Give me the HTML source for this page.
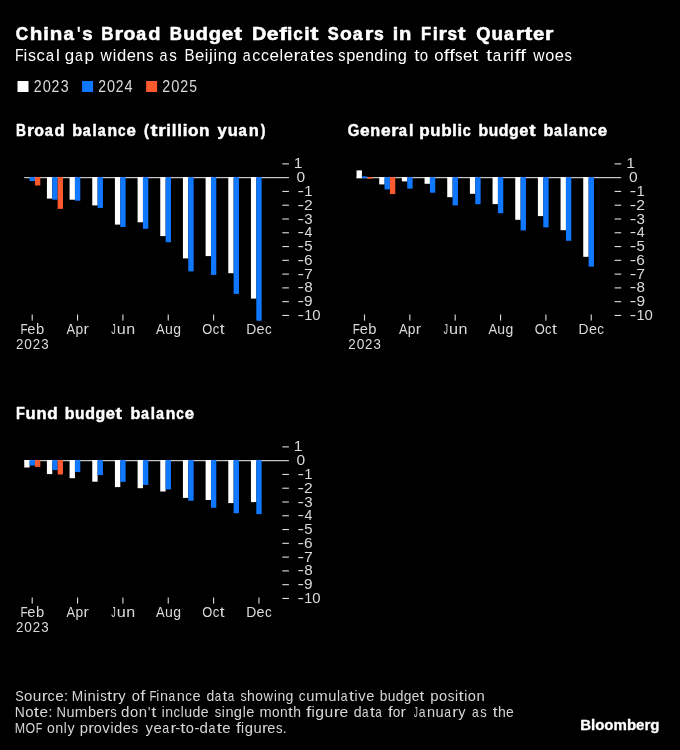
<!DOCTYPE html>
<html><head><meta charset="utf-8"><title>China's Broad Budget Deficit Soars in First Quarter</title>
<style>
html,body{margin:0;padding:0;background:#000;}
body{width:680px;height:750px;overflow:hidden;font-family:"Liberation Sans",sans-serif;}
svg{display:block;will-change:transform;font-family:"Liberation Sans",sans-serif;}
</style></head><body>
<svg width="680" height="750" viewBox="0 0 680 750">
<rect width="680" height="750" fill="#000"/>
<text y="40.20" font-size="19.2" font-weight="700" fill="#fff" stroke="#fff" stroke-width="0.55" stroke-linejoin="round"><tspan x="15.85" textLength="12.42" lengthAdjust="spacingAndGlyphs">C</tspan><tspan x="29.75" textLength="12.62" lengthAdjust="spacingAndGlyphs">h</tspan><tspan x="43.32" textLength="5.58" lengthAdjust="spacingAndGlyphs">i</tspan><tspan x="49.86" textLength="12.55" lengthAdjust="spacingAndGlyphs">n</tspan><tspan x="63.44" textLength="10.42" lengthAdjust="spacingAndGlyphs">a</tspan><tspan x="77.15" textLength="2.96" lengthAdjust="spacingAndGlyphs">&#39;</tspan><tspan x="82.14" textLength="10.34" lengthAdjust="spacingAndGlyphs">s</tspan> <tspan x="101.17" textLength="12.29" lengthAdjust="spacingAndGlyphs">B</tspan><tspan x="114.56" textLength="8.68" lengthAdjust="spacingAndGlyphs">r</tspan><tspan x="123.49" textLength="11.92" lengthAdjust="spacingAndGlyphs">o</tspan><tspan x="136.25" textLength="9.95" lengthAdjust="spacingAndGlyphs">a</tspan><tspan x="148.25" textLength="12.25" lengthAdjust="spacingAndGlyphs">d</tspan> <tspan x="169.67" textLength="12.22" lengthAdjust="spacingAndGlyphs">B</tspan><tspan x="183.18" textLength="11.85" lengthAdjust="spacingAndGlyphs">u</tspan><tspan x="195.81" textLength="12.18" lengthAdjust="spacingAndGlyphs">d</tspan><tspan x="208.76" textLength="12.24" lengthAdjust="spacingAndGlyphs">g</tspan><tspan x="221.68" textLength="11.57" lengthAdjust="spacingAndGlyphs">e</tspan><tspan x="233.97" textLength="7.99" lengthAdjust="spacingAndGlyphs">t</tspan> <tspan x="251.99" textLength="14.24" lengthAdjust="spacingAndGlyphs">D</tspan><tspan x="266.87" textLength="11.81" lengthAdjust="spacingAndGlyphs">e</tspan><tspan x="279.39" textLength="7.62" lengthAdjust="spacingAndGlyphs">f</tspan><tspan x="286.98" textLength="5.38" lengthAdjust="spacingAndGlyphs">i</tspan><tspan x="293.20" textLength="9.53" lengthAdjust="spacingAndGlyphs">c</tspan><tspan x="304.23" textLength="5.38" lengthAdjust="spacingAndGlyphs">i</tspan><tspan x="310.32" textLength="8.16" lengthAdjust="spacingAndGlyphs">t</tspan> <tspan x="327.80" textLength="10.97" lengthAdjust="spacingAndGlyphs">S</tspan><tspan x="340.05" textLength="11.84" lengthAdjust="spacingAndGlyphs">o</tspan><tspan x="352.72" textLength="9.88" lengthAdjust="spacingAndGlyphs">a</tspan><tspan x="364.71" textLength="8.62" lengthAdjust="spacingAndGlyphs">r</tspan><tspan x="373.89" textLength="9.80" lengthAdjust="spacingAndGlyphs">s</tspan> <tspan x="392.69" textLength="5.47" lengthAdjust="spacingAndGlyphs">i</tspan><tspan x="399.12" textLength="12.34" lengthAdjust="spacingAndGlyphs">n</tspan> <tspan x="420.95" textLength="10.13" lengthAdjust="spacingAndGlyphs">F</tspan><tspan x="432.72" textLength="5.11" lengthAdjust="spacingAndGlyphs">i</tspan><tspan x="438.61" textLength="8.41" lengthAdjust="spacingAndGlyphs">r</tspan><tspan x="447.58" textLength="9.56" lengthAdjust="spacingAndGlyphs">s</tspan><tspan x="457.77" textLength="7.79" lengthAdjust="spacingAndGlyphs">t</tspan> <tspan x="476.31" textLength="14.23" lengthAdjust="spacingAndGlyphs">Q</tspan><tspan x="491.47" textLength="11.57" lengthAdjust="spacingAndGlyphs">u</tspan><tspan x="504.08" textLength="9.66" lengthAdjust="spacingAndGlyphs">a</tspan><tspan x="515.82" textLength="8.42" lengthAdjust="spacingAndGlyphs">r</tspan><tspan x="524.47" textLength="7.81" lengthAdjust="spacingAndGlyphs">t</tspan><tspan x="532.91" textLength="11.31" lengthAdjust="spacingAndGlyphs">e</tspan><tspan x="545.01" textLength="8.42" lengthAdjust="spacingAndGlyphs">r</tspan></text>
<text y="60.90" font-size="16.7" font-weight="400" fill="#fff"><tspan x="15.10" textLength="8.70" lengthAdjust="spacingAndGlyphs">F</tspan><tspan x="23.41" textLength="3.81" lengthAdjust="spacingAndGlyphs">i</tspan><tspan x="28.07" textLength="8.00" lengthAdjust="spacingAndGlyphs">s</tspan><tspan x="36.52" textLength="8.35" lengthAdjust="spacingAndGlyphs">c</tspan><tspan x="45.83" textLength="8.32" lengthAdjust="spacingAndGlyphs">a</tspan><tspan x="56.08" textLength="3.81" lengthAdjust="spacingAndGlyphs">l</tspan> <tspan x="64.79" textLength="9.42" lengthAdjust="spacingAndGlyphs">g</tspan><tspan x="74.91" textLength="7.81" lengthAdjust="spacingAndGlyphs">a</tspan><tspan x="84.48" textLength="9.47" lengthAdjust="spacingAndGlyphs">p</tspan> <tspan x="100.55" textLength="11.26" lengthAdjust="spacingAndGlyphs">w</tspan><tspan x="112.85" textLength="3.52" lengthAdjust="spacingAndGlyphs">i</tspan><tspan x="116.89" textLength="9.27" lengthAdjust="spacingAndGlyphs">d</tspan><tspan x="126.66" textLength="9.24" lengthAdjust="spacingAndGlyphs">e</tspan><tspan x="136.27" textLength="9.19" lengthAdjust="spacingAndGlyphs">n</tspan><tspan x="146.14" textLength="7.39" lengthAdjust="spacingAndGlyphs">s</tspan> <tspan x="159.40" textLength="7.92" lengthAdjust="spacingAndGlyphs">a</tspan><tspan x="169.18" textLength="7.61" lengthAdjust="spacingAndGlyphs">s</tspan> <tspan x="184.53" textLength="10.06" lengthAdjust="spacingAndGlyphs">B</tspan><tspan x="195.05" textLength="9.33" lengthAdjust="spacingAndGlyphs">e</tspan><tspan x="204.85" textLength="3.56" lengthAdjust="spacingAndGlyphs">i</tspan><tspan x="208.94" textLength="3.88" lengthAdjust="spacingAndGlyphs">j</tspan><tspan x="213.49" textLength="3.56" lengthAdjust="spacingAndGlyphs">i</tspan><tspan x="217.72" textLength="9.29" lengthAdjust="spacingAndGlyphs">n</tspan><tspan x="227.43" textLength="9.37" lengthAdjust="spacingAndGlyphs">g</tspan> <tspan x="242.65" textLength="7.91" lengthAdjust="spacingAndGlyphs">a</tspan><tspan x="252.21" textLength="7.94" lengthAdjust="spacingAndGlyphs">c</tspan><tspan x="260.93" textLength="7.94" lengthAdjust="spacingAndGlyphs">c</tspan><tspan x="269.59" textLength="9.51" lengthAdjust="spacingAndGlyphs">e</tspan><tspan x="279.57" textLength="3.63" lengthAdjust="spacingAndGlyphs">l</tspan><tspan x="283.74" textLength="9.51" lengthAdjust="spacingAndGlyphs">e</tspan><tspan x="293.42" textLength="6.77" lengthAdjust="spacingAndGlyphs">r</tspan><tspan x="300.20" textLength="7.91" lengthAdjust="spacingAndGlyphs">a</tspan><tspan x="309.63" textLength="5.90" lengthAdjust="spacingAndGlyphs">t</tspan><tspan x="315.92" textLength="9.51" lengthAdjust="spacingAndGlyphs">e</tspan><tspan x="325.94" textLength="7.61" lengthAdjust="spacingAndGlyphs">s</tspan> <tspan x="338.36" textLength="7.24" lengthAdjust="spacingAndGlyphs">s</tspan><tspan x="346.14" textLength="9.13" lengthAdjust="spacingAndGlyphs">p</tspan><tspan x="355.53" textLength="9.05" lengthAdjust="spacingAndGlyphs">e</tspan><tspan x="364.95" textLength="9.01" lengthAdjust="spacingAndGlyphs">n</tspan><tspan x="374.36" textLength="9.09" lengthAdjust="spacingAndGlyphs">d</tspan><tspan x="384.16" textLength="3.45" lengthAdjust="spacingAndGlyphs">i</tspan><tspan x="388.27" textLength="9.01" lengthAdjust="spacingAndGlyphs">n</tspan><tspan x="397.68" textLength="9.09" lengthAdjust="spacingAndGlyphs">g</tspan> <tspan x="414.22" textLength="5.23" lengthAdjust="spacingAndGlyphs">t</tspan><tspan x="419.81" textLength="8.31" lengthAdjust="spacingAndGlyphs">o</tspan> <tspan x="434.30" textLength="9.28" lengthAdjust="spacingAndGlyphs">o</tspan><tspan x="443.86" textLength="5.67" lengthAdjust="spacingAndGlyphs">f</tspan><tspan x="449.15" textLength="5.67" lengthAdjust="spacingAndGlyphs">f</tspan><tspan x="455.00" textLength="7.55" lengthAdjust="spacingAndGlyphs">s</tspan><tspan x="462.92" textLength="9.44" lengthAdjust="spacingAndGlyphs">e</tspan><tspan x="472.51" textLength="5.85" lengthAdjust="spacingAndGlyphs">t</tspan> <tspan x="485.91" textLength="6.26" lengthAdjust="spacingAndGlyphs">t</tspan><tspan x="492.80" textLength="8.40" lengthAdjust="spacingAndGlyphs">a</tspan><tspan x="502.82" textLength="7.18" lengthAdjust="spacingAndGlyphs">r</tspan><tspan x="510.06" textLength="3.85" lengthAdjust="spacingAndGlyphs">i</tspan><tspan x="514.44" textLength="6.07" lengthAdjust="spacingAndGlyphs">f</tspan><tspan x="520.10" textLength="6.07" lengthAdjust="spacingAndGlyphs">f</tspan> <tspan x="533.30" textLength="11.23" lengthAdjust="spacingAndGlyphs">w</tspan><tspan x="545.34" textLength="9.06" lengthAdjust="spacingAndGlyphs">o</tspan><tspan x="554.72" textLength="9.21" lengthAdjust="spacingAndGlyphs">e</tspan><tspan x="564.41" textLength="7.37" lengthAdjust="spacingAndGlyphs">s</tspan></text>
<rect x="17.5" y="81" width="11" height="11" fill="#ffffff"/>
<text y="91.80" font-size="15.8" font-weight="400" fill="#dadada"><tspan x="33.83" textLength="7.86" lengthAdjust="spacingAndGlyphs">2</tspan><tspan x="42.72" textLength="8.15" lengthAdjust="spacingAndGlyphs">0</tspan><tspan x="51.58" textLength="7.86" lengthAdjust="spacingAndGlyphs">2</tspan><tspan x="60.63" textLength="7.89" lengthAdjust="spacingAndGlyphs">3</tspan></text>
<rect x="82.1" y="81" width="11" height="11" fill="#1078ff"/>
<text y="91.80" font-size="15.8" font-weight="400" fill="#dadada"><tspan x="98.34" textLength="7.76" lengthAdjust="spacingAndGlyphs">2</tspan><tspan x="107.11" textLength="8.04" lengthAdjust="spacingAndGlyphs">0</tspan><tspan x="115.86" textLength="7.76" lengthAdjust="spacingAndGlyphs">2</tspan><tspan x="124.61" textLength="8.09" lengthAdjust="spacingAndGlyphs">4</tspan></text>
<rect x="146.1" y="81" width="11" height="11" fill="#fa5a2d"/>
<text y="91.80" font-size="15.8" font-weight="400" fill="#dadada"><tspan x="162.33" textLength="7.89" lengthAdjust="spacingAndGlyphs">2</tspan><tspan x="171.24" textLength="8.17" lengthAdjust="spacingAndGlyphs">0</tspan><tspan x="180.14" textLength="7.89" lengthAdjust="spacingAndGlyphs">2</tspan><tspan x="189.22" textLength="7.74" lengthAdjust="spacingAndGlyphs">5</tspan></text>
<g transform="translate(0,0)">
<text y="135.50" font-size="15.6" font-weight="700" fill="#fff" stroke="#fff" stroke-width="0.45" stroke-linejoin="round"><tspan x="16.09" textLength="9.99" lengthAdjust="spacingAndGlyphs">B</tspan><tspan x="27.04" textLength="7.07" lengthAdjust="spacingAndGlyphs">r</tspan><tspan x="34.33" textLength="9.71" lengthAdjust="spacingAndGlyphs">o</tspan><tspan x="44.74" textLength="8.11" lengthAdjust="spacingAndGlyphs">a</tspan><tspan x="54.57" textLength="10.04" lengthAdjust="spacingAndGlyphs">d</tspan> <tspan x="72.19" textLength="9.90" lengthAdjust="spacingAndGlyphs">b</tspan><tspan x="82.72" textLength="7.99" lengthAdjust="spacingAndGlyphs">a</tspan><tspan x="92.60" textLength="4.24" lengthAdjust="spacingAndGlyphs">l</tspan><tspan x="97.65" textLength="7.99" lengthAdjust="spacingAndGlyphs">a</tspan><tspan x="107.55" textLength="9.60" lengthAdjust="spacingAndGlyphs">n</tspan><tspan x="117.89" textLength="7.56" lengthAdjust="spacingAndGlyphs">c</tspan><tspan x="126.46" textLength="9.39" lengthAdjust="spacingAndGlyphs">e</tspan> <tspan x="144.02" textLength="4.91" lengthAdjust="spacingAndGlyphs">(</tspan><tspan x="150.64" textLength="7.03" lengthAdjust="spacingAndGlyphs">t</tspan><tspan x="158.32" textLength="7.61" lengthAdjust="spacingAndGlyphs">r</tspan><tspan x="166.29" textLength="4.68" lengthAdjust="spacingAndGlyphs">i</tspan><tspan x="171.74" textLength="4.68" lengthAdjust="spacingAndGlyphs">l</tspan><tspan x="177.20" textLength="4.68" lengthAdjust="spacingAndGlyphs">l</tspan><tspan x="182.65" textLength="4.68" lengthAdjust="spacingAndGlyphs">i</tspan><tspan x="187.95" textLength="10.43" lengthAdjust="spacingAndGlyphs">o</tspan><tspan x="199.08" textLength="10.46" lengthAdjust="spacingAndGlyphs">n</tspan> <tspan x="217.62" textLength="9.27" lengthAdjust="spacingAndGlyphs">y</tspan><tspan x="227.70" textLength="10.07" lengthAdjust="spacingAndGlyphs">u</tspan><tspan x="238.60" textLength="8.33" lengthAdjust="spacingAndGlyphs">a</tspan><tspan x="248.89" textLength="10.01" lengthAdjust="spacingAndGlyphs">n</tspan><tspan x="260.76" textLength="4.69" lengthAdjust="spacingAndGlyphs">)</tspan></text>
<rect x="31.65" y="314.5" width="1.1" height="6.1" fill="#dcdcdc"/>
<rect x="77.00" y="314.5" width="1.1" height="6.1" fill="#dcdcdc"/>
<rect x="122.35" y="314.5" width="1.1" height="6.1" fill="#dcdcdc"/>
<rect x="167.70" y="314.5" width="1.1" height="6.1" fill="#dcdcdc"/>
<rect x="213.05" y="314.5" width="1.1" height="6.1" fill="#dcdcdc"/>
<rect x="258.40" y="314.5" width="1.1" height="6.1" fill="#dcdcdc"/>
<rect x="24.2" y="177.10" width="264.7" height="1.1" fill="#dcdcdc"/>
<rect x="29.60" y="177.10" width="5.35" height="4.00" fill="#1078ff"/>
<rect x="34.95" y="177.10" width="5.35" height="8.40" fill="#fa5a2d"/>
<rect x="46.92" y="177.10" width="5.35" height="21.50" fill="#ffffff"/>
<rect x="52.27" y="177.10" width="5.35" height="22.60" fill="#1078ff"/>
<rect x="57.62" y="177.10" width="5.35" height="31.80" fill="#fa5a2d"/>
<rect x="69.59" y="177.10" width="5.35" height="22.60" fill="#ffffff"/>
<rect x="74.94" y="177.10" width="5.35" height="23.60" fill="#1078ff"/>
<rect x="92.26" y="177.10" width="5.35" height="28.30" fill="#ffffff"/>
<rect x="97.61" y="177.10" width="5.35" height="30.80" fill="#1078ff"/>
<rect x="114.93" y="177.10" width="5.35" height="47.50" fill="#ffffff"/>
<rect x="120.28" y="177.10" width="5.35" height="49.90" fill="#1078ff"/>
<rect x="137.60" y="177.10" width="5.35" height="45.20" fill="#ffffff"/>
<rect x="142.95" y="177.10" width="5.35" height="51.70" fill="#1078ff"/>
<rect x="160.27" y="177.10" width="5.35" height="59.00" fill="#ffffff"/>
<rect x="165.62" y="177.10" width="5.35" height="65.10" fill="#1078ff"/>
<rect x="182.94" y="177.10" width="5.35" height="81.30" fill="#ffffff"/>
<rect x="188.29" y="177.10" width="5.35" height="94.30" fill="#1078ff"/>
<rect x="205.61" y="177.10" width="5.35" height="79.00" fill="#ffffff"/>
<rect x="210.96" y="177.10" width="5.35" height="97.80" fill="#1078ff"/>
<rect x="228.28" y="177.10" width="5.35" height="96.10" fill="#ffffff"/>
<rect x="233.63" y="177.10" width="5.35" height="116.80" fill="#1078ff"/>
<rect x="250.95" y="177.10" width="5.35" height="121.50" fill="#ffffff"/>
<rect x="256.30" y="177.10" width="5.35" height="143.50" fill="#1078ff"/>
<rect x="282.3" y="163.32" width="6.6" height="1.1" fill="#dcdcdc"/>
<text y="168.47" font-size="14.7" fill="#dadada"><tspan x="293.83" textLength="8.69" lengthAdjust="spacingAndGlyphs">1</tspan></text>
<text y="182.25" font-size="14.7" fill="#dadada"><tspan x="296.62" textLength="8.64" lengthAdjust="spacingAndGlyphs">0</tspan></text>
<rect x="282.3" y="190.88" width="6.6" height="1.1" fill="#dcdcdc"/>
<text y="196.03" font-size="14.7" fill="#dadada"><tspan x="297.53" textLength="6.53" lengthAdjust="spacingAndGlyphs">-</tspan><tspan x="304.28" textLength="8.30" lengthAdjust="spacingAndGlyphs">1</tspan></text>
<rect x="282.3" y="204.66" width="6.6" height="1.1" fill="#dcdcdc"/>
<text y="209.81" font-size="14.7" fill="#dadada"><tspan x="297.53" textLength="6.53" lengthAdjust="spacingAndGlyphs">-</tspan><tspan x="304.05" textLength="8.72" lengthAdjust="spacingAndGlyphs">2</tspan></text>
<rect x="282.3" y="218.44" width="6.6" height="1.1" fill="#dcdcdc"/>
<text y="223.59" font-size="14.7" fill="#dadada"><tspan x="297.53" textLength="6.53" lengthAdjust="spacingAndGlyphs">-</tspan><tspan x="304.23" textLength="8.41" lengthAdjust="spacingAndGlyphs">3</tspan></text>
<rect x="282.3" y="232.22" width="6.6" height="1.1" fill="#dcdcdc"/>
<text y="237.37" font-size="14.7" fill="#dadada"><tspan x="297.53" textLength="6.53" lengthAdjust="spacingAndGlyphs">-</tspan><tspan x="304.51" textLength="7.90" lengthAdjust="spacingAndGlyphs">4</tspan></text>
<rect x="282.3" y="246.00" width="6.6" height="1.1" fill="#dcdcdc"/>
<text y="251.15" font-size="14.7" fill="#dadada"><tspan x="297.53" textLength="6.53" lengthAdjust="spacingAndGlyphs">-</tspan><tspan x="304.24" textLength="8.35" lengthAdjust="spacingAndGlyphs">5</tspan></text>
<rect x="282.3" y="259.78" width="6.6" height="1.1" fill="#dcdcdc"/>
<text y="264.93" font-size="14.7" fill="#dadada"><tspan x="297.53" textLength="6.53" lengthAdjust="spacingAndGlyphs">-</tspan><tspan x="304.06" textLength="8.59" lengthAdjust="spacingAndGlyphs">6</tspan></text>
<rect x="282.3" y="273.56" width="6.6" height="1.1" fill="#dcdcdc"/>
<text y="278.71" font-size="14.7" fill="#dadada"><tspan x="297.53" textLength="6.53" lengthAdjust="spacingAndGlyphs">-</tspan><tspan x="303.99" textLength="8.79" lengthAdjust="spacingAndGlyphs">7</tspan></text>
<rect x="282.3" y="287.34" width="6.6" height="1.1" fill="#dcdcdc"/>
<text y="292.49" font-size="14.7" fill="#dadada"><tspan x="297.53" textLength="6.53" lengthAdjust="spacingAndGlyphs">-</tspan><tspan x="304.18" textLength="8.47" lengthAdjust="spacingAndGlyphs">8</tspan></text>
<rect x="282.3" y="301.12" width="6.6" height="1.1" fill="#dcdcdc"/>
<text y="306.27" font-size="14.7" fill="#dadada"><tspan x="297.53" textLength="6.53" lengthAdjust="spacingAndGlyphs">-</tspan><tspan x="304.12" textLength="8.59" lengthAdjust="spacingAndGlyphs">9</tspan></text>
<rect x="282.3" y="314.90" width="6.6" height="1.1" fill="#dcdcdc"/>
<text y="320.05" font-size="14.7" fill="#dadada"><tspan x="297.53" textLength="6.53" lengthAdjust="spacingAndGlyphs">-</tspan><tspan x="304.32" textLength="8.05" lengthAdjust="spacingAndGlyphs">1</tspan><tspan x="312.24" textLength="8.29" lengthAdjust="spacingAndGlyphs">0</tspan></text>
<text y="334.10" font-size="14.7" font-weight="400" fill="#dadada"><tspan x="20.44" textLength="7.17" lengthAdjust="spacingAndGlyphs">F</tspan><tspan x="27.35" textLength="8.18" lengthAdjust="spacingAndGlyphs">e</tspan><tspan x="35.95" textLength="8.23" lengthAdjust="spacingAndGlyphs">b</tspan></text>
<text y="334.10" font-size="14.7" font-weight="400" fill="#dadada"><tspan x="66.60" textLength="8.55" lengthAdjust="spacingAndGlyphs">A</tspan><tspan x="75.54" textLength="7.67" lengthAdjust="spacingAndGlyphs">p</tspan><tspan x="83.44" textLength="5.37" lengthAdjust="spacingAndGlyphs">r</tspan></text>
<text y="334.10" font-size="14.7" font-weight="400" fill="#dadada"><tspan x="111.18" textLength="4.51" lengthAdjust="spacingAndGlyphs">J</tspan><tspan x="116.68" textLength="9.05" lengthAdjust="spacingAndGlyphs">u</tspan><tspan x="126.28" textLength="8.93" lengthAdjust="spacingAndGlyphs">n</tspan></text>
<text y="334.10" font-size="14.7" font-weight="400" fill="#dadada"><tspan x="156.10" textLength="8.67" lengthAdjust="spacingAndGlyphs">A</tspan><tspan x="165.01" textLength="7.83" lengthAdjust="spacingAndGlyphs">u</tspan><tspan x="173.19" textLength="7.79" lengthAdjust="spacingAndGlyphs">g</tspan></text>
<text y="334.10" font-size="14.7" font-weight="400" fill="#dadada"><tspan x="202.33" textLength="10.03" lengthAdjust="spacingAndGlyphs">O</tspan><tspan x="212.66" textLength="6.53" lengthAdjust="spacingAndGlyphs">c</tspan><tspan x="219.75" textLength="4.85" lengthAdjust="spacingAndGlyphs">t</tspan></text>
<text y="334.10" font-size="14.7" font-weight="400" fill="#dadada"><tspan x="246.27" textLength="10.03" lengthAdjust="spacingAndGlyphs">D</tspan><tspan x="256.59" textLength="8.03" lengthAdjust="spacingAndGlyphs">e</tspan><tspan x="264.90" textLength="6.72" lengthAdjust="spacingAndGlyphs">c</tspan></text>
<text y="348.90" font-size="14.7" font-weight="400" fill="#dadada"><tspan x="15.97" textLength="7.39" lengthAdjust="spacingAndGlyphs">2</tspan><tspan x="24.33" textLength="7.63" lengthAdjust="spacingAndGlyphs">0</tspan><tspan x="32.66" textLength="7.39" lengthAdjust="spacingAndGlyphs">2</tspan><tspan x="41.17" textLength="7.39" lengthAdjust="spacingAndGlyphs">3</tspan></text>
</g>
<g transform="translate(332.3,0)">
<text y="135.50" font-size="15.6" font-weight="700" fill="#fff" stroke="#fff" stroke-width="0.45" stroke-linejoin="round"><tspan x="15.35" textLength="11.59" lengthAdjust="spacingAndGlyphs">G</tspan><tspan x="27.58" textLength="9.68" lengthAdjust="spacingAndGlyphs">e</tspan><tspan x="38.06" textLength="9.90" lengthAdjust="spacingAndGlyphs">n</tspan><tspan x="48.58" textLength="9.68" lengthAdjust="spacingAndGlyphs">e</tspan><tspan x="58.92" textLength="7.19" lengthAdjust="spacingAndGlyphs">r</tspan><tspan x="66.52" textLength="8.24" lengthAdjust="spacingAndGlyphs">a</tspan><tspan x="76.68" textLength="4.40" lengthAdjust="spacingAndGlyphs">l</tspan> <tspan x="86.83" textLength="10.43" lengthAdjust="spacingAndGlyphs">p</tspan><tspan x="97.87" textLength="10.19" lengthAdjust="spacingAndGlyphs">u</tspan><tspan x="108.85" textLength="10.43" lengthAdjust="spacingAndGlyphs">b</tspan><tspan x="119.90" textLength="4.51" lengthAdjust="spacingAndGlyphs">l</tspan><tspan x="125.18" textLength="4.51" lengthAdjust="spacingAndGlyphs">i</tspan><tspan x="130.39" textLength="7.97" lengthAdjust="spacingAndGlyphs">c</tspan> <tspan x="146.16" textLength="9.69" lengthAdjust="spacingAndGlyphs">b</tspan><tspan x="156.45" textLength="9.46" lengthAdjust="spacingAndGlyphs">u</tspan><tspan x="166.52" textLength="9.69" lengthAdjust="spacingAndGlyphs">d</tspan><tspan x="176.81" textLength="9.69" lengthAdjust="spacingAndGlyphs">g</tspan><tspan x="187.07" textLength="9.19" lengthAdjust="spacingAndGlyphs">e</tspan><tspan x="196.85" textLength="6.31" lengthAdjust="spacingAndGlyphs">t</tspan> <tspan x="211.14" textLength="9.90" lengthAdjust="spacingAndGlyphs">b</tspan><tspan x="221.67" textLength="7.99" lengthAdjust="spacingAndGlyphs">a</tspan><tspan x="231.55" textLength="4.24" lengthAdjust="spacingAndGlyphs">l</tspan><tspan x="236.60" textLength="7.99" lengthAdjust="spacingAndGlyphs">a</tspan><tspan x="246.50" textLength="9.60" lengthAdjust="spacingAndGlyphs">n</tspan><tspan x="256.84" textLength="7.56" lengthAdjust="spacingAndGlyphs">c</tspan><tspan x="265.41" textLength="9.39" lengthAdjust="spacingAndGlyphs">e</tspan></text>
<rect x="31.65" y="314.5" width="1.1" height="6.1" fill="#dcdcdc"/>
<rect x="77.00" y="314.5" width="1.1" height="6.1" fill="#dcdcdc"/>
<rect x="122.35" y="314.5" width="1.1" height="6.1" fill="#dcdcdc"/>
<rect x="167.70" y="314.5" width="1.1" height="6.1" fill="#dcdcdc"/>
<rect x="213.05" y="314.5" width="1.1" height="6.1" fill="#dcdcdc"/>
<rect x="258.40" y="314.5" width="1.1" height="6.1" fill="#dcdcdc"/>
<rect x="24.2" y="177.10" width="264.7" height="1.1" fill="#dcdcdc"/>
<rect x="24.25" y="170.40" width="5.35" height="7.80" fill="#ffffff"/>
<rect x="29.60" y="176.40" width="5.35" height="1.80" fill="#1078ff"/>
<rect x="34.95" y="177.10" width="5.35" height="1.60" fill="#fa5a2d"/>
<rect x="46.92" y="177.10" width="5.35" height="7.30" fill="#ffffff"/>
<rect x="52.27" y="177.10" width="5.35" height="12.30" fill="#1078ff"/>
<rect x="57.62" y="177.10" width="5.35" height="17.00" fill="#fa5a2d"/>
<rect x="69.59" y="177.10" width="5.35" height="4.30" fill="#ffffff"/>
<rect x="74.94" y="177.10" width="5.35" height="11.50" fill="#1078ff"/>
<rect x="92.26" y="177.10" width="5.35" height="6.70" fill="#ffffff"/>
<rect x="97.61" y="177.10" width="5.35" height="15.60" fill="#1078ff"/>
<rect x="114.93" y="177.10" width="5.35" height="20.10" fill="#ffffff"/>
<rect x="120.28" y="177.10" width="5.35" height="28.30" fill="#1078ff"/>
<rect x="137.60" y="177.10" width="5.35" height="16.70" fill="#ffffff"/>
<rect x="142.95" y="177.10" width="5.35" height="27.10" fill="#1078ff"/>
<rect x="160.27" y="177.10" width="5.35" height="27.00" fill="#ffffff"/>
<rect x="165.62" y="177.10" width="5.35" height="36.10" fill="#1078ff"/>
<rect x="182.94" y="177.10" width="5.35" height="42.70" fill="#ffffff"/>
<rect x="188.29" y="177.10" width="5.35" height="53.30" fill="#1078ff"/>
<rect x="205.61" y="177.10" width="5.35" height="39.00" fill="#ffffff"/>
<rect x="210.96" y="177.10" width="5.35" height="50.30" fill="#1078ff"/>
<rect x="228.28" y="177.10" width="5.35" height="53.10" fill="#ffffff"/>
<rect x="233.63" y="177.10" width="5.35" height="63.70" fill="#1078ff"/>
<rect x="250.95" y="177.10" width="5.35" height="79.70" fill="#ffffff"/>
<rect x="256.30" y="177.10" width="5.35" height="89.50" fill="#1078ff"/>
<rect x="282.3" y="163.32" width="6.6" height="1.1" fill="#dcdcdc"/>
<text y="168.47" font-size="14.7" fill="#dadada"><tspan x="293.83" textLength="8.69" lengthAdjust="spacingAndGlyphs">1</tspan></text>
<text y="182.25" font-size="14.7" fill="#dadada"><tspan x="296.62" textLength="8.64" lengthAdjust="spacingAndGlyphs">0</tspan></text>
<rect x="282.3" y="190.88" width="6.6" height="1.1" fill="#dcdcdc"/>
<text y="196.03" font-size="14.7" fill="#dadada"><tspan x="297.53" textLength="6.53" lengthAdjust="spacingAndGlyphs">-</tspan><tspan x="304.28" textLength="8.30" lengthAdjust="spacingAndGlyphs">1</tspan></text>
<rect x="282.3" y="204.66" width="6.6" height="1.1" fill="#dcdcdc"/>
<text y="209.81" font-size="14.7" fill="#dadada"><tspan x="297.53" textLength="6.53" lengthAdjust="spacingAndGlyphs">-</tspan><tspan x="304.05" textLength="8.72" lengthAdjust="spacingAndGlyphs">2</tspan></text>
<rect x="282.3" y="218.44" width="6.6" height="1.1" fill="#dcdcdc"/>
<text y="223.59" font-size="14.7" fill="#dadada"><tspan x="297.53" textLength="6.53" lengthAdjust="spacingAndGlyphs">-</tspan><tspan x="304.23" textLength="8.41" lengthAdjust="spacingAndGlyphs">3</tspan></text>
<rect x="282.3" y="232.22" width="6.6" height="1.1" fill="#dcdcdc"/>
<text y="237.37" font-size="14.7" fill="#dadada"><tspan x="297.53" textLength="6.53" lengthAdjust="spacingAndGlyphs">-</tspan><tspan x="304.51" textLength="7.90" lengthAdjust="spacingAndGlyphs">4</tspan></text>
<rect x="282.3" y="246.00" width="6.6" height="1.1" fill="#dcdcdc"/>
<text y="251.15" font-size="14.7" fill="#dadada"><tspan x="297.53" textLength="6.53" lengthAdjust="spacingAndGlyphs">-</tspan><tspan x="304.24" textLength="8.35" lengthAdjust="spacingAndGlyphs">5</tspan></text>
<rect x="282.3" y="259.78" width="6.6" height="1.1" fill="#dcdcdc"/>
<text y="264.93" font-size="14.7" fill="#dadada"><tspan x="297.53" textLength="6.53" lengthAdjust="spacingAndGlyphs">-</tspan><tspan x="304.06" textLength="8.59" lengthAdjust="spacingAndGlyphs">6</tspan></text>
<rect x="282.3" y="273.56" width="6.6" height="1.1" fill="#dcdcdc"/>
<text y="278.71" font-size="14.7" fill="#dadada"><tspan x="297.53" textLength="6.53" lengthAdjust="spacingAndGlyphs">-</tspan><tspan x="303.99" textLength="8.79" lengthAdjust="spacingAndGlyphs">7</tspan></text>
<rect x="282.3" y="287.34" width="6.6" height="1.1" fill="#dcdcdc"/>
<text y="292.49" font-size="14.7" fill="#dadada"><tspan x="297.53" textLength="6.53" lengthAdjust="spacingAndGlyphs">-</tspan><tspan x="304.18" textLength="8.47" lengthAdjust="spacingAndGlyphs">8</tspan></text>
<rect x="282.3" y="301.12" width="6.6" height="1.1" fill="#dcdcdc"/>
<text y="306.27" font-size="14.7" fill="#dadada"><tspan x="297.53" textLength="6.53" lengthAdjust="spacingAndGlyphs">-</tspan><tspan x="304.12" textLength="8.59" lengthAdjust="spacingAndGlyphs">9</tspan></text>
<rect x="282.3" y="314.90" width="6.6" height="1.1" fill="#dcdcdc"/>
<text y="320.05" font-size="14.7" fill="#dadada"><tspan x="297.53" textLength="6.53" lengthAdjust="spacingAndGlyphs">-</tspan><tspan x="304.32" textLength="8.05" lengthAdjust="spacingAndGlyphs">1</tspan><tspan x="312.24" textLength="8.29" lengthAdjust="spacingAndGlyphs">0</tspan></text>
<text y="334.10" font-size="14.7" font-weight="400" fill="#dadada"><tspan x="20.44" textLength="7.17" lengthAdjust="spacingAndGlyphs">F</tspan><tspan x="27.35" textLength="8.18" lengthAdjust="spacingAndGlyphs">e</tspan><tspan x="35.95" textLength="8.23" lengthAdjust="spacingAndGlyphs">b</tspan></text>
<text y="334.10" font-size="14.7" font-weight="400" fill="#dadada"><tspan x="66.60" textLength="8.55" lengthAdjust="spacingAndGlyphs">A</tspan><tspan x="75.54" textLength="7.67" lengthAdjust="spacingAndGlyphs">p</tspan><tspan x="83.44" textLength="5.37" lengthAdjust="spacingAndGlyphs">r</tspan></text>
<text y="334.10" font-size="14.7" font-weight="400" fill="#dadada"><tspan x="111.18" textLength="4.51" lengthAdjust="spacingAndGlyphs">J</tspan><tspan x="116.68" textLength="9.05" lengthAdjust="spacingAndGlyphs">u</tspan><tspan x="126.28" textLength="8.93" lengthAdjust="spacingAndGlyphs">n</tspan></text>
<text y="334.10" font-size="14.7" font-weight="400" fill="#dadada"><tspan x="156.10" textLength="8.67" lengthAdjust="spacingAndGlyphs">A</tspan><tspan x="165.01" textLength="7.83" lengthAdjust="spacingAndGlyphs">u</tspan><tspan x="173.19" textLength="7.79" lengthAdjust="spacingAndGlyphs">g</tspan></text>
<text y="334.10" font-size="14.7" font-weight="400" fill="#dadada"><tspan x="202.33" textLength="10.03" lengthAdjust="spacingAndGlyphs">O</tspan><tspan x="212.66" textLength="6.53" lengthAdjust="spacingAndGlyphs">c</tspan><tspan x="219.75" textLength="4.85" lengthAdjust="spacingAndGlyphs">t</tspan></text>
<text y="334.10" font-size="14.7" font-weight="400" fill="#dadada"><tspan x="246.27" textLength="10.03" lengthAdjust="spacingAndGlyphs">D</tspan><tspan x="256.59" textLength="8.03" lengthAdjust="spacingAndGlyphs">e</tspan><tspan x="264.90" textLength="6.72" lengthAdjust="spacingAndGlyphs">c</tspan></text>
<text y="348.90" font-size="14.7" font-weight="400" fill="#dadada"><tspan x="15.97" textLength="7.39" lengthAdjust="spacingAndGlyphs">2</tspan><tspan x="24.33" textLength="7.63" lengthAdjust="spacingAndGlyphs">0</tspan><tspan x="32.66" textLength="7.39" lengthAdjust="spacingAndGlyphs">2</tspan><tspan x="41.17" textLength="7.39" lengthAdjust="spacingAndGlyphs">3</tspan></text>
</g>
<g transform="translate(0,283.0)">
<text y="135.50" font-size="15.6" font-weight="700" fill="#fff" stroke="#fff" stroke-width="0.45" stroke-linejoin="round"><tspan x="16.05" textLength="8.81" lengthAdjust="spacingAndGlyphs">F</tspan><tspan x="25.51" textLength="10.16" lengthAdjust="spacingAndGlyphs">u</tspan><tspan x="36.50" textLength="10.09" lengthAdjust="spacingAndGlyphs">n</tspan><tspan x="47.24" textLength="10.41" lengthAdjust="spacingAndGlyphs">d</tspan> <tspan x="64.70" textLength="9.73" lengthAdjust="spacingAndGlyphs">b</tspan><tspan x="75.04" textLength="9.50" lengthAdjust="spacingAndGlyphs">u</tspan><tspan x="85.15" textLength="9.73" lengthAdjust="spacingAndGlyphs">d</tspan><tspan x="95.49" textLength="9.73" lengthAdjust="spacingAndGlyphs">g</tspan><tspan x="105.80" textLength="9.23" lengthAdjust="spacingAndGlyphs">e</tspan><tspan x="115.62" textLength="6.34" lengthAdjust="spacingAndGlyphs">t</tspan> <tspan x="130.44" textLength="9.91" lengthAdjust="spacingAndGlyphs">b</tspan><tspan x="140.98" textLength="8.00" lengthAdjust="spacingAndGlyphs">a</tspan><tspan x="150.86" textLength="4.25" lengthAdjust="spacingAndGlyphs">l</tspan><tspan x="155.92" textLength="8.00" lengthAdjust="spacingAndGlyphs">a</tspan><tspan x="165.82" textLength="9.61" lengthAdjust="spacingAndGlyphs">n</tspan><tspan x="176.17" textLength="7.57" lengthAdjust="spacingAndGlyphs">c</tspan><tspan x="184.75" textLength="9.39" lengthAdjust="spacingAndGlyphs">e</tspan></text>
<rect x="31.65" y="314.5" width="1.1" height="6.1" fill="#dcdcdc"/>
<rect x="77.00" y="314.5" width="1.1" height="6.1" fill="#dcdcdc"/>
<rect x="122.35" y="314.5" width="1.1" height="6.1" fill="#dcdcdc"/>
<rect x="167.70" y="314.5" width="1.1" height="6.1" fill="#dcdcdc"/>
<rect x="213.05" y="314.5" width="1.1" height="6.1" fill="#dcdcdc"/>
<rect x="258.40" y="314.5" width="1.1" height="6.1" fill="#dcdcdc"/>
<rect x="24.2" y="177.10" width="264.7" height="1.1" fill="#dcdcdc"/>
<rect x="24.25" y="177.10" width="5.35" height="7.40" fill="#ffffff"/>
<rect x="29.60" y="177.10" width="5.35" height="5.40" fill="#1078ff"/>
<rect x="34.95" y="177.10" width="5.35" height="6.80" fill="#fa5a2d"/>
<rect x="46.92" y="177.10" width="5.35" height="14.00" fill="#ffffff"/>
<rect x="52.27" y="177.10" width="5.35" height="9.90" fill="#1078ff"/>
<rect x="57.62" y="177.10" width="5.35" height="14.40" fill="#fa5a2d"/>
<rect x="69.59" y="177.10" width="5.35" height="18.10" fill="#ffffff"/>
<rect x="74.94" y="177.10" width="5.35" height="12.00" fill="#1078ff"/>
<rect x="92.26" y="177.10" width="5.35" height="21.60" fill="#ffffff"/>
<rect x="97.61" y="177.10" width="5.35" height="15.00" fill="#1078ff"/>
<rect x="114.93" y="177.10" width="5.35" height="27.00" fill="#ffffff"/>
<rect x="120.28" y="177.10" width="5.35" height="21.80" fill="#1078ff"/>
<rect x="137.60" y="177.10" width="5.35" height="28.10" fill="#ffffff"/>
<rect x="142.95" y="177.10" width="5.35" height="24.80" fill="#1078ff"/>
<rect x="160.27" y="177.10" width="5.35" height="31.40" fill="#ffffff"/>
<rect x="165.62" y="177.10" width="5.35" height="29.30" fill="#1078ff"/>
<rect x="182.94" y="177.10" width="5.35" height="37.80" fill="#ffffff"/>
<rect x="188.29" y="177.10" width="5.35" height="40.60" fill="#1078ff"/>
<rect x="205.61" y="177.10" width="5.35" height="39.90" fill="#ffffff"/>
<rect x="210.96" y="177.10" width="5.35" height="47.70" fill="#1078ff"/>
<rect x="228.28" y="177.10" width="5.35" height="43.00" fill="#ffffff"/>
<rect x="233.63" y="177.10" width="5.35" height="53.10" fill="#1078ff"/>
<rect x="250.95" y="177.10" width="5.35" height="42.00" fill="#ffffff"/>
<rect x="256.30" y="177.10" width="5.35" height="54.00" fill="#1078ff"/>
<rect x="282.3" y="163.32" width="6.6" height="1.1" fill="#dcdcdc"/>
<text y="168.47" font-size="14.7" fill="#dadada"><tspan x="293.83" textLength="8.69" lengthAdjust="spacingAndGlyphs">1</tspan></text>
<text y="182.25" font-size="14.7" fill="#dadada"><tspan x="296.62" textLength="8.64" lengthAdjust="spacingAndGlyphs">0</tspan></text>
<rect x="282.3" y="190.88" width="6.6" height="1.1" fill="#dcdcdc"/>
<text y="196.03" font-size="14.7" fill="#dadada"><tspan x="297.53" textLength="6.53" lengthAdjust="spacingAndGlyphs">-</tspan><tspan x="304.28" textLength="8.30" lengthAdjust="spacingAndGlyphs">1</tspan></text>
<rect x="282.3" y="204.66" width="6.6" height="1.1" fill="#dcdcdc"/>
<text y="209.81" font-size="14.7" fill="#dadada"><tspan x="297.53" textLength="6.53" lengthAdjust="spacingAndGlyphs">-</tspan><tspan x="304.05" textLength="8.72" lengthAdjust="spacingAndGlyphs">2</tspan></text>
<rect x="282.3" y="218.44" width="6.6" height="1.1" fill="#dcdcdc"/>
<text y="223.59" font-size="14.7" fill="#dadada"><tspan x="297.53" textLength="6.53" lengthAdjust="spacingAndGlyphs">-</tspan><tspan x="304.23" textLength="8.41" lengthAdjust="spacingAndGlyphs">3</tspan></text>
<rect x="282.3" y="232.22" width="6.6" height="1.1" fill="#dcdcdc"/>
<text y="237.37" font-size="14.7" fill="#dadada"><tspan x="297.53" textLength="6.53" lengthAdjust="spacingAndGlyphs">-</tspan><tspan x="304.51" textLength="7.90" lengthAdjust="spacingAndGlyphs">4</tspan></text>
<rect x="282.3" y="246.00" width="6.6" height="1.1" fill="#dcdcdc"/>
<text y="251.15" font-size="14.7" fill="#dadada"><tspan x="297.53" textLength="6.53" lengthAdjust="spacingAndGlyphs">-</tspan><tspan x="304.24" textLength="8.35" lengthAdjust="spacingAndGlyphs">5</tspan></text>
<rect x="282.3" y="259.78" width="6.6" height="1.1" fill="#dcdcdc"/>
<text y="264.93" font-size="14.7" fill="#dadada"><tspan x="297.53" textLength="6.53" lengthAdjust="spacingAndGlyphs">-</tspan><tspan x="304.06" textLength="8.59" lengthAdjust="spacingAndGlyphs">6</tspan></text>
<rect x="282.3" y="273.56" width="6.6" height="1.1" fill="#dcdcdc"/>
<text y="278.71" font-size="14.7" fill="#dadada"><tspan x="297.53" textLength="6.53" lengthAdjust="spacingAndGlyphs">-</tspan><tspan x="303.99" textLength="8.79" lengthAdjust="spacingAndGlyphs">7</tspan></text>
<rect x="282.3" y="287.34" width="6.6" height="1.1" fill="#dcdcdc"/>
<text y="292.49" font-size="14.7" fill="#dadada"><tspan x="297.53" textLength="6.53" lengthAdjust="spacingAndGlyphs">-</tspan><tspan x="304.18" textLength="8.47" lengthAdjust="spacingAndGlyphs">8</tspan></text>
<rect x="282.3" y="301.12" width="6.6" height="1.1" fill="#dcdcdc"/>
<text y="306.27" font-size="14.7" fill="#dadada"><tspan x="297.53" textLength="6.53" lengthAdjust="spacingAndGlyphs">-</tspan><tspan x="304.12" textLength="8.59" lengthAdjust="spacingAndGlyphs">9</tspan></text>
<rect x="282.3" y="314.90" width="6.6" height="1.1" fill="#dcdcdc"/>
<text y="320.05" font-size="14.7" fill="#dadada"><tspan x="297.53" textLength="6.53" lengthAdjust="spacingAndGlyphs">-</tspan><tspan x="304.32" textLength="8.05" lengthAdjust="spacingAndGlyphs">1</tspan><tspan x="312.24" textLength="8.29" lengthAdjust="spacingAndGlyphs">0</tspan></text>
<text y="334.10" font-size="14.7" font-weight="400" fill="#dadada"><tspan x="20.44" textLength="7.17" lengthAdjust="spacingAndGlyphs">F</tspan><tspan x="27.35" textLength="8.18" lengthAdjust="spacingAndGlyphs">e</tspan><tspan x="35.95" textLength="8.23" lengthAdjust="spacingAndGlyphs">b</tspan></text>
<text y="334.10" font-size="14.7" font-weight="400" fill="#dadada"><tspan x="66.60" textLength="8.55" lengthAdjust="spacingAndGlyphs">A</tspan><tspan x="75.54" textLength="7.67" lengthAdjust="spacingAndGlyphs">p</tspan><tspan x="83.44" textLength="5.37" lengthAdjust="spacingAndGlyphs">r</tspan></text>
<text y="334.10" font-size="14.7" font-weight="400" fill="#dadada"><tspan x="111.18" textLength="4.51" lengthAdjust="spacingAndGlyphs">J</tspan><tspan x="116.68" textLength="9.05" lengthAdjust="spacingAndGlyphs">u</tspan><tspan x="126.28" textLength="8.93" lengthAdjust="spacingAndGlyphs">n</tspan></text>
<text y="334.10" font-size="14.7" font-weight="400" fill="#dadada"><tspan x="156.10" textLength="8.67" lengthAdjust="spacingAndGlyphs">A</tspan><tspan x="165.01" textLength="7.83" lengthAdjust="spacingAndGlyphs">u</tspan><tspan x="173.19" textLength="7.79" lengthAdjust="spacingAndGlyphs">g</tspan></text>
<text y="334.10" font-size="14.7" font-weight="400" fill="#dadada"><tspan x="202.33" textLength="10.03" lengthAdjust="spacingAndGlyphs">O</tspan><tspan x="212.66" textLength="6.53" lengthAdjust="spacingAndGlyphs">c</tspan><tspan x="219.75" textLength="4.85" lengthAdjust="spacingAndGlyphs">t</tspan></text>
<text y="334.10" font-size="14.7" font-weight="400" fill="#dadada"><tspan x="246.27" textLength="10.03" lengthAdjust="spacingAndGlyphs">D</tspan><tspan x="256.59" textLength="8.03" lengthAdjust="spacingAndGlyphs">e</tspan><tspan x="264.90" textLength="6.72" lengthAdjust="spacingAndGlyphs">c</tspan></text>
<text y="348.90" font-size="14.7" font-weight="400" fill="#dadada"><tspan x="15.97" textLength="7.39" lengthAdjust="spacingAndGlyphs">2</tspan><tspan x="24.33" textLength="7.63" lengthAdjust="spacingAndGlyphs">0</tspan><tspan x="32.66" textLength="7.39" lengthAdjust="spacingAndGlyphs">2</tspan><tspan x="41.17" textLength="7.39" lengthAdjust="spacingAndGlyphs">3</tspan></text>
</g>
<text y="700.60" font-size="14.6" font-weight="400" fill="#d6d6d6"><tspan x="15.18" textLength="8.47" lengthAdjust="spacingAndGlyphs">S</tspan><tspan x="24.04" textLength="8.38" lengthAdjust="spacingAndGlyphs">o</tspan><tspan x="32.84" textLength="8.57" lengthAdjust="spacingAndGlyphs">u</tspan><tspan x="41.75" textLength="6.05" lengthAdjust="spacingAndGlyphs">r</tspan><tspan x="47.40" textLength="7.13" lengthAdjust="spacingAndGlyphs">c</tspan><tspan x="55.20" textLength="8.52" lengthAdjust="spacingAndGlyphs">e</tspan><tspan x="64.09" textLength="4.29" lengthAdjust="spacingAndGlyphs">:</tspan> <tspan x="71.82" textLength="11.38" lengthAdjust="spacingAndGlyphs">M</tspan><tspan x="83.81" textLength="3.06" lengthAdjust="spacingAndGlyphs">i</tspan><tspan x="87.53" textLength="8.22" lengthAdjust="spacingAndGlyphs">n</tspan><tspan x="96.35" textLength="3.06" lengthAdjust="spacingAndGlyphs">i</tspan><tspan x="100.15" textLength="6.59" lengthAdjust="spacingAndGlyphs">s</tspan><tspan x="107.05" textLength="5.13" lengthAdjust="spacingAndGlyphs">t</tspan><tspan x="112.45" textLength="5.83" lengthAdjust="spacingAndGlyphs">r</tspan><tspan x="118.39" textLength="7.36" lengthAdjust="spacingAndGlyphs">y</tspan> <tspan x="131.89" textLength="8.21" lengthAdjust="spacingAndGlyphs">o</tspan><tspan x="140.35" textLength="5.09" lengthAdjust="spacingAndGlyphs">f</tspan> <tspan x="149.60" textLength="7.01" lengthAdjust="spacingAndGlyphs">F</tspan><tspan x="156.32" textLength="2.99" lengthAdjust="spacingAndGlyphs">i</tspan><tspan x="159.97" textLength="8.05" lengthAdjust="spacingAndGlyphs">n</tspan><tspan x="168.54" textLength="6.70" lengthAdjust="spacingAndGlyphs">a</tspan><tspan x="176.75" textLength="8.05" lengthAdjust="spacingAndGlyphs">n</tspan><tspan x="185.21" textLength="6.73" lengthAdjust="spacingAndGlyphs">c</tspan><tspan x="192.57" textLength="8.04" lengthAdjust="spacingAndGlyphs">e</tspan> <tspan x="206.42" textLength="7.80" lengthAdjust="spacingAndGlyphs">d</tspan><tspan x="214.80" textLength="6.43" lengthAdjust="spacingAndGlyphs">a</tspan><tspan x="222.51" textLength="4.83" lengthAdjust="spacingAndGlyphs">t</tspan><tspan x="227.79" textLength="6.43" lengthAdjust="spacingAndGlyphs">a</tspan> <tspan x="240.41" textLength="6.22" lengthAdjust="spacingAndGlyphs">s</tspan><tspan x="247.03" textLength="7.82" lengthAdjust="spacingAndGlyphs">h</tspan><tspan x="255.20" textLength="7.62" lengthAdjust="spacingAndGlyphs">o</tspan><tspan x="263.55" textLength="9.47" lengthAdjust="spacingAndGlyphs">w</tspan><tspan x="273.96" textLength="2.88" lengthAdjust="spacingAndGlyphs">i</tspan><tspan x="277.47" textLength="7.75" lengthAdjust="spacingAndGlyphs">n</tspan><tspan x="285.56" textLength="7.82" lengthAdjust="spacingAndGlyphs">g</tspan> <tspan x="298.69" textLength="6.83" lengthAdjust="spacingAndGlyphs">c</tspan><tspan x="306.23" textLength="8.21" lengthAdjust="spacingAndGlyphs">u</tspan><tspan x="314.89" textLength="12.97" lengthAdjust="spacingAndGlyphs">m</tspan><tspan x="328.20" textLength="8.21" lengthAdjust="spacingAndGlyphs">u</tspan><tspan x="337.02" textLength="3.04" lengthAdjust="spacingAndGlyphs">l</tspan><tspan x="340.76" textLength="6.80" lengthAdjust="spacingAndGlyphs">a</tspan><tspan x="348.91" textLength="5.10" lengthAdjust="spacingAndGlyphs">t</tspan><tspan x="354.55" textLength="3.04" lengthAdjust="spacingAndGlyphs">i</tspan><tspan x="358.30" textLength="7.41" lengthAdjust="spacingAndGlyphs">v</tspan><tspan x="366.21" textLength="8.16" lengthAdjust="spacingAndGlyphs">e</tspan> <tspan x="379.65" textLength="7.66" lengthAdjust="spacingAndGlyphs">b</tspan><tspan x="387.64" textLength="7.66" lengthAdjust="spacingAndGlyphs">u</tspan><tspan x="395.65" textLength="7.68" lengthAdjust="spacingAndGlyphs">d</tspan><tspan x="403.74" textLength="7.68" lengthAdjust="spacingAndGlyphs">g</tspan><tspan x="411.83" textLength="7.61" lengthAdjust="spacingAndGlyphs">e</tspan><tspan x="419.62" textLength="4.76" lengthAdjust="spacingAndGlyphs">t</tspan> <tspan x="430.33" textLength="8.34" lengthAdjust="spacingAndGlyphs">p</tspan><tspan x="438.96" textLength="8.14" lengthAdjust="spacingAndGlyphs">o</tspan><tspan x="447.65" textLength="6.64" lengthAdjust="spacingAndGlyphs">s</tspan><tspan x="454.89" textLength="3.08" lengthAdjust="spacingAndGlyphs">i</tspan><tspan x="458.45" textLength="5.17" lengthAdjust="spacingAndGlyphs">t</tspan><tspan x="464.17" textLength="3.08" lengthAdjust="spacingAndGlyphs">i</tspan><tspan x="467.81" textLength="8.14" lengthAdjust="spacingAndGlyphs">o</tspan><tspan x="476.40" textLength="8.28" lengthAdjust="spacingAndGlyphs">n</tspan></text>
<text y="717.00" font-size="14.6" font-weight="400" fill="#d6d6d6"><tspan x="14.65" textLength="10.06" lengthAdjust="spacingAndGlyphs">N</tspan><tspan x="25.18" textLength="8.36" lengthAdjust="spacingAndGlyphs">o</tspan><tspan x="33.83" textLength="5.32" lengthAdjust="spacingAndGlyphs">t</tspan><tspan x="39.47" textLength="8.51" lengthAdjust="spacingAndGlyphs">e</tspan><tspan x="48.35" textLength="4.28" lengthAdjust="spacingAndGlyphs">:</tspan> <tspan x="56.47" textLength="9.45" lengthAdjust="spacingAndGlyphs">N</tspan><tspan x="66.41" textLength="8.04" lengthAdjust="spacingAndGlyphs">u</tspan><tspan x="74.89" textLength="12.70" lengthAdjust="spacingAndGlyphs">m</tspan><tspan x="88.02" textLength="8.04" lengthAdjust="spacingAndGlyphs">b</tspan><tspan x="96.35" textLength="7.99" lengthAdjust="spacingAndGlyphs">e</tspan><tspan x="104.53" textLength="5.67" lengthAdjust="spacingAndGlyphs">r</tspan><tspan x="110.28" textLength="6.41" lengthAdjust="spacingAndGlyphs">s</tspan> <tspan x="121.13" textLength="8.42" lengthAdjust="spacingAndGlyphs">d</tspan><tspan x="130.01" textLength="8.20" lengthAdjust="spacingAndGlyphs">o</tspan><tspan x="138.67" textLength="8.35" lengthAdjust="spacingAndGlyphs">n</tspan><tspan x="147.98" textLength="2.36" lengthAdjust="spacingAndGlyphs">&#39;</tspan><tspan x="151.17" textLength="5.21" lengthAdjust="spacingAndGlyphs">t</tspan> <tspan x="161.65" textLength="2.91" lengthAdjust="spacingAndGlyphs">i</tspan><tspan x="165.19" textLength="7.82" lengthAdjust="spacingAndGlyphs">n</tspan><tspan x="173.40" textLength="6.54" lengthAdjust="spacingAndGlyphs">c</tspan><tspan x="180.77" textLength="2.91" lengthAdjust="spacingAndGlyphs">l</tspan><tspan x="184.25" textLength="7.86" lengthAdjust="spacingAndGlyphs">u</tspan><tspan x="192.47" textLength="7.89" lengthAdjust="spacingAndGlyphs">d</tspan><tspan x="200.78" textLength="7.81" lengthAdjust="spacingAndGlyphs">e</tspan> <tspan x="214.64" textLength="6.50" lengthAdjust="spacingAndGlyphs">s</tspan><tspan x="221.73" textLength="3.02" lengthAdjust="spacingAndGlyphs">i</tspan><tspan x="225.40" textLength="8.11" lengthAdjust="spacingAndGlyphs">n</tspan><tspan x="233.87" textLength="8.18" lengthAdjust="spacingAndGlyphs">g</tspan><tspan x="242.72" textLength="3.02" lengthAdjust="spacingAndGlyphs">l</tspan><tspan x="246.26" textLength="8.10" lengthAdjust="spacingAndGlyphs">e</tspan> <tspan x="259.55" textLength="12.21" lengthAdjust="spacingAndGlyphs">m</tspan><tspan x="272.02" textLength="7.55" lengthAdjust="spacingAndGlyphs">o</tspan><tspan x="279.99" textLength="7.68" lengthAdjust="spacingAndGlyphs">n</tspan><tspan x="287.97" textLength="4.80" lengthAdjust="spacingAndGlyphs">t</tspan><tspan x="293.13" textLength="7.75" lengthAdjust="spacingAndGlyphs">h</tspan> <tspan x="305.99" textLength="5.31" lengthAdjust="spacingAndGlyphs">f</tspan><tspan x="311.46" textLength="3.24" lengthAdjust="spacingAndGlyphs">i</tspan><tspan x="315.26" textLength="8.79" lengthAdjust="spacingAndGlyphs">g</tspan><tspan x="324.60" textLength="8.77" lengthAdjust="spacingAndGlyphs">u</tspan><tspan x="333.72" textLength="6.18" lengthAdjust="spacingAndGlyphs">r</tspan><tspan x="339.45" textLength="8.71" lengthAdjust="spacingAndGlyphs">e</tspan> <tspan x="353.67" textLength="7.87" lengthAdjust="spacingAndGlyphs">d</tspan><tspan x="362.12" textLength="6.49" lengthAdjust="spacingAndGlyphs">a</tspan><tspan x="369.90" textLength="4.87" lengthAdjust="spacingAndGlyphs">t</tspan><tspan x="375.23" textLength="6.49" lengthAdjust="spacingAndGlyphs">a</tspan> <tspan x="388.02" textLength="4.71" lengthAdjust="spacingAndGlyphs">f</tspan><tspan x="392.66" textLength="7.59" lengthAdjust="spacingAndGlyphs">o</tspan><tspan x="400.51" textLength="5.48" lengthAdjust="spacingAndGlyphs">r</tspan> <tspan x="413.64" textLength="4.09" lengthAdjust="spacingAndGlyphs">J</tspan><tspan x="418.78" textLength="6.75" lengthAdjust="spacingAndGlyphs">a</tspan><tspan x="427.05" textLength="8.11" lengthAdjust="spacingAndGlyphs">n</tspan><tspan x="435.59" textLength="8.15" lengthAdjust="spacingAndGlyphs">u</tspan><tspan x="444.29" textLength="6.75" lengthAdjust="spacingAndGlyphs">a</tspan><tspan x="452.39" textLength="5.75" lengthAdjust="spacingAndGlyphs">r</tspan><tspan x="458.24" textLength="7.26" lengthAdjust="spacingAndGlyphs">y</tspan> <tspan x="472.01" textLength="6.67" lengthAdjust="spacingAndGlyphs">a</tspan><tspan x="480.27" textLength="6.42" lengthAdjust="spacingAndGlyphs">s</tspan> <tspan x="492.76" textLength="4.83" lengthAdjust="spacingAndGlyphs">t</tspan><tspan x="497.96" textLength="7.80" lengthAdjust="spacingAndGlyphs">h</tspan><tspan x="506.10" textLength="7.74" lengthAdjust="spacingAndGlyphs">e</tspan></text>
<text y="733.40" font-size="14.6" font-weight="400" fill="#d6d6d6"><tspan x="14.77" textLength="10.39" lengthAdjust="spacingAndGlyphs">M</tspan><tspan x="25.50" textLength="9.62" lengthAdjust="spacingAndGlyphs">O</tspan><tspan x="35.63" textLength="6.53" lengthAdjust="spacingAndGlyphs">F</tspan> <tspan x="46.92" textLength="7.80" lengthAdjust="spacingAndGlyphs">o</tspan><tspan x="55.17" textLength="7.94" lengthAdjust="spacingAndGlyphs">n</tspan><tspan x="63.69" textLength="2.95" lengthAdjust="spacingAndGlyphs">l</tspan><tspan x="67.39" textLength="7.11" lengthAdjust="spacingAndGlyphs">y</tspan> <tspan x="79.84" textLength="8.25" lengthAdjust="spacingAndGlyphs">p</tspan><tspan x="88.32" textLength="5.81" lengthAdjust="spacingAndGlyphs">r</tspan><tspan x="93.72" textLength="8.05" lengthAdjust="spacingAndGlyphs">o</tspan><tspan x="102.28" textLength="7.44" lengthAdjust="spacingAndGlyphs">v</tspan><tspan x="110.44" textLength="3.05" lengthAdjust="spacingAndGlyphs">i</tspan><tspan x="114.02" textLength="8.27" lengthAdjust="spacingAndGlyphs">d</tspan><tspan x="122.73" textLength="8.19" lengthAdjust="spacingAndGlyphs">e</tspan><tspan x="131.38" textLength="6.57" lengthAdjust="spacingAndGlyphs">s</tspan> <tspan x="145.50" textLength="7.43" lengthAdjust="spacingAndGlyphs">y</tspan><tspan x="153.49" textLength="8.29" lengthAdjust="spacingAndGlyphs">e</tspan><tspan x="162.20" textLength="6.91" lengthAdjust="spacingAndGlyphs">a</tspan><tspan x="170.49" textLength="5.88" lengthAdjust="spacingAndGlyphs">r</tspan><tspan x="175.26" textLength="4.90" lengthAdjust="spacingAndGlyphs">-</tspan><tspan x="180.31" textLength="5.18" lengthAdjust="spacingAndGlyphs">t</tspan><tspan x="185.82" textLength="8.15" lengthAdjust="spacingAndGlyphs">o</tspan><tspan x="194.47" textLength="4.90" lengthAdjust="spacingAndGlyphs">-</tspan><tspan x="199.57" textLength="8.37" lengthAdjust="spacingAndGlyphs">d</tspan><tspan x="208.56" textLength="6.91" lengthAdjust="spacingAndGlyphs">a</tspan><tspan x="216.84" textLength="5.18" lengthAdjust="spacingAndGlyphs">t</tspan><tspan x="222.34" textLength="8.29" lengthAdjust="spacingAndGlyphs">e</tspan> <tspan x="236.01" textLength="4.96" lengthAdjust="spacingAndGlyphs">f</tspan><tspan x="241.12" textLength="3.03" lengthAdjust="spacingAndGlyphs">i</tspan><tspan x="244.68" textLength="8.22" lengthAdjust="spacingAndGlyphs">g</tspan><tspan x="253.41" textLength="8.19" lengthAdjust="spacingAndGlyphs">u</tspan><tspan x="261.93" textLength="5.78" lengthAdjust="spacingAndGlyphs">r</tspan><tspan x="267.29" textLength="8.14" lengthAdjust="spacingAndGlyphs">e</tspan><tspan x="275.89" textLength="6.53" lengthAdjust="spacingAndGlyphs">s</tspan><tspan x="282.78" textLength="4.01" lengthAdjust="spacingAndGlyphs">.</tspan></text>
<text x="580.15" y="730.30" font-size="15.0" font-weight="700" fill="#fff" stroke="#fff" stroke-width="0.3" stroke-linejoin="round" textLength="79.37" lengthAdjust="spacingAndGlyphs">Bloomberg</text>
</svg>
</body></html>
